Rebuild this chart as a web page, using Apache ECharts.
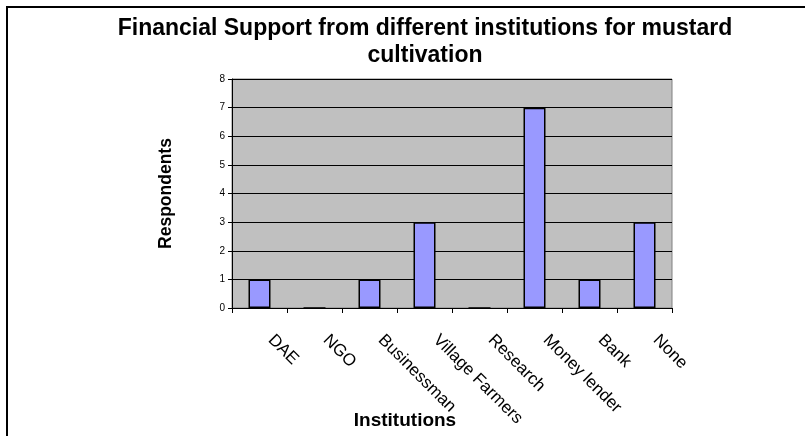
<!DOCTYPE html>
<html>
<head>
<meta charset="utf-8">
<script src="https://cdn.jsdelivr.net/npm/echarts@6/dist/echarts.min.js"></script>
<style>
  html, body { margin: 0; padding: 0; background: #fff; }
</style>
</head>
<body>
<div id="myChart" style="width:805px;height:436px"></div>
<script>
// chart data
const categories = ['DAE', 'NGO', 'Businessman', 'Village Farmers', 'Research', 'Money lender', 'Bank', 'None']
const respondents = [1, 0, 1, 3, 0, 7, 1, 3]
const yTicks = { min: 0, max: 8, interval: 1 }

const myChart = echarts.init(document.getElementById('myChart'))
const option = {
  backgroundColor: '#fff',
  animation: false,
  title: {
    text: 'Financial Support from different institutions for mustard\ncultivation',
    left: 420,
    top: 10,
    textAlign: 'center',
    textStyle: {
      fontFamily: 'Liberation Sans',
      fontSize: 23,
      fontWeight: 'bold',
      color: '#000',
      lineHeight: 27
    }
  },
  // frame of the chart area (only top/left edges are visible)
  graphic: [{
    type: 'rect',
    shape: { x: 7, y: 7, width: 900, height: 600 },
    style: { fill: 'none', stroke: '#000', lineWidth: 2 },
    silent: true
  }],
  grid: {
    left: 232,
    right: 133,
    top: 79,
    bottom: 128,
    containLabel: false,
    outerBoundsMode: 'none',
    show: true,
    backgroundColor: '#C0C0C0',
    borderColor: '#808080',
    borderWidth: 1
  },
  xAxis: {
    type: 'category',
    data: categories,
    name: 'Institutions',
    nameLocation: 'middle',
    nameGap: 103,
    nameMoveOverlap: false,
    nameTextStyle: {
      fontFamily: 'Liberation Sans',
      fontSize: 19,
      fontWeight: 'bold',
      color: '#000',
      padding: [0, 94, 0, 0]
    },
    axisLine: { lineStyle: { color: '#000', width: 1 } },
    axisTick: { show: true, length: 5, lineStyle: { color: '#000' } },
    axisLabel: {
      rotate: -45,
      margin: 18,
      interval: 0,
      padding: [0, 0, 0, 16],
      fontFamily: 'Liberation Sans',
      fontSize: 17,
      color: '#000'
    }
  },
  yAxis: {
    type: 'value',
    min: yTicks.min,
    max: yTicks.max,
    interval: yTicks.interval,
    name: 'Respondents',
    nameLocation: 'middle',
    nameGap: 57,
    nameTextStyle: {
      fontFamily: 'Liberation Sans',
      fontSize: 17.5,
      fontWeight: 'bold',
      color: '#000'
    },
    axisLine: { show: true, lineStyle: { color: '#000', width: 1 } },
    axisTick: { show: true, length: 4, lineStyle: { color: '#000' } },
    axisLabel: {
      margin: 7,
      fontFamily: 'Liberation Sans',
      fontSize: 10,
      color: '#000'
    },
    splitLine: { show: true, lineStyle: { color: '#000', width: 1 } }
  },
  series: [{
    type: 'bar',
    data: respondents,
    barWidth: 22,
    itemStyle: {
      color: '#9999FF',
      borderColor: '#000',
      borderWidth: 1.5
    }
  }]
}
myChart.setOption(option)
</script>
</body>
</html>
